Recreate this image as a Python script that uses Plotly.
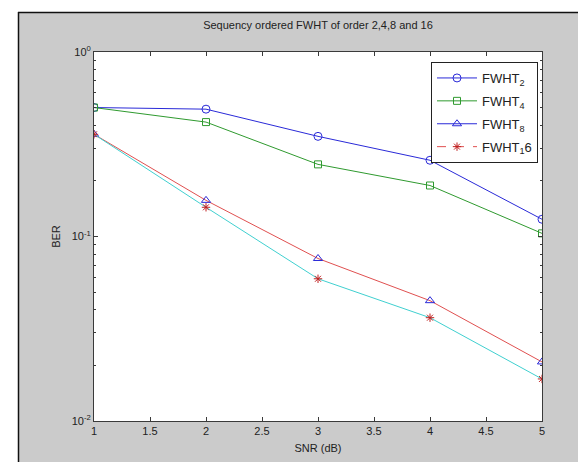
import plotly.graph_objects as go

snr = [1, 2, 3, 4, 5]
ber_fwht2 = [0.5, 0.49, 0.349, 0.259, 0.124]
ber_fwht4 = [0.5, 0.417, 0.246, 0.189, 0.104]
ber_fwht8 = [0.358, 0.157, 0.076, 0.0449, 0.0209]
ber_fwht16 = [0.358, 0.144, 0.059, 0.0363, 0.0169]

x_ticks = [1, 1.5, 2, 2.5, 3, 3.5, 4, 4.5, 5]
y_tickvals = [0.01, 0.1, 1]
y_ticktext = ["10<sup>-2</sup>", "10<sup>-1</sup>", "10<sup>0</sup>"]
y_minor = [0.02, 0.03, 0.04, 0.05, 0.06, 0.07, 0.08, 0.09,
           0.2, 0.3, 0.4, 0.5, 0.6, 0.7, 0.8, 0.9]

W, H = 586, 462
L, R, T, B = 86, 52, 44, 49
PW, PH = W - L - R, H - T - B

BLUE = "#2a2ad8"
GREEN = "#2f9a2f"
RED = "#e05050"
CYAN = "#40d0d0"
STAR = "#c02020"

fig = go.Figure()

# FWHT2
fig.add_trace(go.Scatter(x=snr, y=ber_fwht2, mode="lines+markers", name="FWHT<sub>2</sub>",
                         legendgroup="g1",
                         line=dict(color=BLUE, width=1),
                         marker=dict(symbol="circle-open", size=8, color=BLUE, line=dict(width=1))))
# FWHT4
fig.add_trace(go.Scatter(x=snr, y=ber_fwht4, mode="lines+markers", name="FWHT<sub>4</sub>",
                         legendgroup="g2",
                         line=dict(color=GREEN, width=1),
                         marker=dict(symbol="square-open", size=7, color=GREEN, line=dict(width=1))))
# FWHT8 line (red) and markers
fig.add_trace(go.Scatter(x=snr, y=ber_fwht8, mode="lines", showlegend=False, legendgroup="g3",
                         line=dict(color=RED, width=1)))
fig.add_trace(go.Scatter(x=snr, y=ber_fwht8, mode="markers", showlegend=False, legendgroup="g3",
                         marker=dict(symbol="triangle-up-open", size=8, color=BLUE, line=dict(width=1))))
# FWHT16 line (cyan) and markers
fig.add_trace(go.Scatter(x=snr, y=ber_fwht16, mode="lines", showlegend=False, legendgroup="g4",
                         line=dict(color=CYAN, width=1)))
fig.add_trace(go.Scatter(x=snr, y=ber_fwht16, mode="markers", showlegend=False, legendgroup="g4",
                         marker=dict(symbol="asterisk-open", size=7, color=STAR, line=dict(width=1, color=STAR))))
# legend entries
fig.add_trace(go.Scatter(x=[None], y=[None], mode="lines+markers", name="FWHT<sub>8</sub>",
                         legendgroup="g3",
                         line=dict(color=BLUE, width=1),
                         marker=dict(symbol="triangle-up-open", size=8, color=BLUE, line=dict(width=1))))
fig.add_trace(go.Scatter(x=[None], y=[None], mode="lines+markers", name="FWHT<sub>1</sub>6",
                         legendgroup="g4",
                         line=dict(color=RED, width=1, dash="dash"),
                         marker=dict(symbol="asterisk-open", size=7, color=STAR, line=dict(width=1, color=STAR))))


def px_x(p):
    return (p - L) / PW


def px_y(p):
    return (H - B - p) / PH


AX = "#3a3a3a"
shapes = [
    dict(type="rect", xref="paper", yref="paper", x0=px_x(0), x1=px_x(W), y0=px_y(4), y1=px_y(0),
         fillcolor="white", line=dict(width=0), layer="above"),
    dict(type="rect", xref="paper", yref="paper", x0=px_x(0), x1=px_x(10), y0=px_y(H), y1=px_y(0),
         fillcolor="white", line=dict(width=0), layer="above"),
    dict(type="line", xref="paper", yref="paper", x0=px_x(10), x1=px_x(W), y0=px_y(4.5), y1=px_y(4.5),
         line=dict(color="#111111", width=1.5), layer="above"),
    dict(type="line", xref="paper", yref="paper", x0=px_x(10.5), x1=px_x(10.5), y0=px_y(H), y1=px_y(4),
         line=dict(color="#111111", width=1.5), layer="above"),
    dict(type="line", xref="paper", yref="paper", x0=px_x(580), x1=px_x(580), y0=px_y(H), y1=px_y(5),
         line=dict(color="#dadada", width=1), layer="above"),
]

FONT = "Liberation Sans, Arial, sans-serif"

fig.update_layout(
    width=W, height=H,
    margin=dict(l=L, r=R, t=T, b=B),
    paper_bgcolor="#cbcbcb",
    plot_bgcolor="white",
    font=dict(family=FONT, size=11, color="#222222"),
    title=dict(text="Sequency ordered FWHT of order 2,4,8 and 16", x=(L + PW / 2) / W, xanchor="center",
               y=1 - 17 / H, yanchor="middle", yref="container",
               font=dict(size=11, color="#222222")),
    shapes=shapes,
    showlegend=True,
    legend=dict(x=px_x(530), xanchor="right", y=px_y(54), yanchor="top",
                bgcolor="white", bordercolor="#222222", borderwidth=1,
                font=dict(size=13, color="#222222"), itemwidth=40,
                traceorder="grouped", tracegroupgap=3),
    xaxis=dict(range=[1, 5], tickvals=x_ticks, ticktext=[str(v) for v in x_ticks],
               ticks="inside", ticklen=4, tickcolor=AX, showline=True, linecolor=AX, linewidth=1,
               mirror="ticks", showgrid=False, zeroline=False,
               title=dict(text="SNR (dB)", standoff=8, font=dict(size=11))),
    yaxis=dict(type="log", range=[-2, 0], tickvals=y_tickvals, ticktext=y_ticktext,
               ticks="inside", ticklen=4, tickcolor=AX, showline=True, linecolor=AX, linewidth=1,
               mirror="ticks", showgrid=False, zeroline=False,
               minor=dict(tickvals=y_minor, ticks="inside", ticklen=2, tickcolor=AX, showgrid=False),
               title=dict(text="BER", standoff=8, font=dict(size=11))),
)

fig.write_html("out.html")
